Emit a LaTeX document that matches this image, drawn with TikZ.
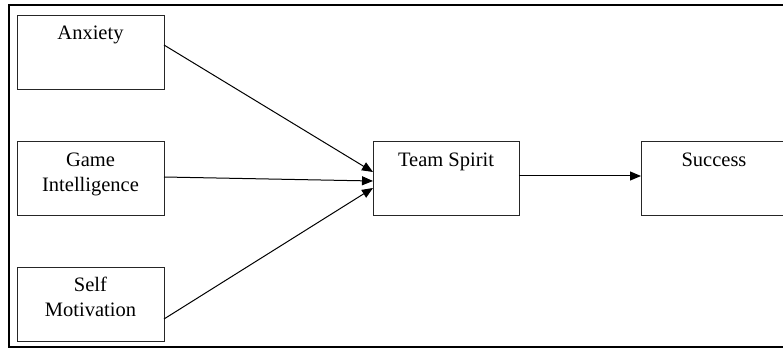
\documentclass[tikz,border=0pt]{standalone}
\usepackage{fontspec}
\setmainfont{Liberation Serif}
\usetikzlibrary{arrows.meta}
\begin{document}
\begin{tikzpicture}[x=1pt,y=-1pt,
  box/.style={draw=black!85, line width=0.9pt, minimum width=147pt, minimum height=74pt, inner sep=0pt, outer sep=0pt},
  lbl/.style={anchor=north, align=center, inner sep=0pt, font=\fontsize{20.5}{25}\selectfont},
  conn/.style={line width=1pt, -{Triangle[length=11pt,width=9pt]}}
]
\useasboundingbox (0,0) rectangle (783,352);
\clip (0,0) rectangle (783,352);
\draw[line width=2.2pt] (9,5) rectangle (795,347);
\node[box] (anx) at (90.5,52) {};
\node[box] (game) at (90.5,178.5) {};
\node[box] (self) at (90.5,304) {};
\node[box, minimum width=146pt] (team) at (446,178.5) {};
\node[box, minimum width=146pt] (succ) at (714,178.5) {};
\node[lbl] (anxt) at ([yshift=-11pt]anx.north) {Anxiety};
\node[lbl] (gamet) at ([yshift=-11pt]game.north) {Game\\Intelligence};
\node[lbl] (selft) at ([yshift=-10pt]self.north) {Self\\Motivation};
\node[lbl] (teamt) at ([yshift=-11pt]team.north) {Team Spirit};
\node[lbl] (succt) at ([yshift=-11pt]succ.north) {Success};
\draw[conn] ([yshift=7pt]anx.east) -- ([yshift=6.5pt]team.west);
\draw[conn] ([yshift=1.5pt]game.east) -- ([yshift=-2.5pt]team.west);
\draw[conn] ([yshift=-15pt]self.east) -- ([yshift=-9.5pt]team.west);
\draw[conn] ([yshift=2.5pt]team.east) -- ([yshift=2.5pt]succ.west);
\end{tikzpicture}
\end{document}
